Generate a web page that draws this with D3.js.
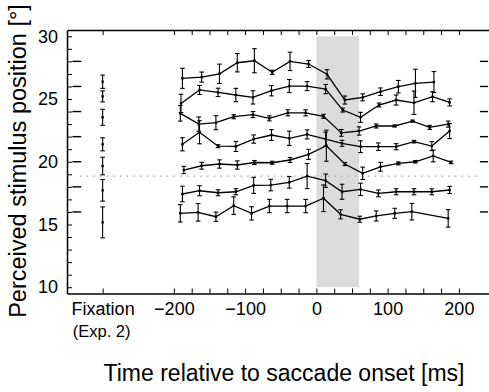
<!DOCTYPE html>
<html>
<head>
<meta charset="utf-8">
<script src="https://cdn.jsdelivr.net/npm/d3@7"></script>
<style>
  body { margin: 0; background: #fff; }
  svg { display: block; }
  text { font-family: "Liberation Sans", Arial, Helvetica, sans-serif; fill: #000; }
</style>
</head>
<body>
<svg id="vis-svg" width="489" height="392"></svg>
<script>
// true stimulus positions (deg), one curve per position
const positions = [28, 26, 24, 22, 20, 18, 16];

// time of each bin (ms), perceived position and error bar half-width, per position
const t28 = [-188, -161, -136, -111, -87, -62, -37, -11, 15, 40, 65, 90, 115, 139, 165];
const m28 = [26.65, 26.75, 27.01, 27.89, 28.05, 27.13, 28.0, 27.79, 26.97, 24.92, 25.13, 25.58, 25.98, 26.25, 26.35];
const e28 = [0.8, 0.4, 0.77, 0.73, 0.96, 0.17, 0.73, 0.27, 0.37, 0.32, 0.28, 0.3, 0.5, 1.12, 0.84];

const t26 = [-190, -164, -138, -113, -89, -63, -38, -13, 13, 37, 62, 88, 112, 137, 163, 187];
const m26 = [24.65, 25.72, 25.53, 25.32, 25.13, 25.66, 26.03, 26.03, 25.79, 24.12, 23.54, 24.52, 24.92, 24.7, 25.18, 24.73];
const e26 = [0.73, 0.36, 0.33, 0.53, 0.53, 0.41, 0.52, 0.36, 0.37, 0.16, 0.4, 0.16, 0.4, 0.93, 0.4, 0.28];

const t24 = [-191, -165, -141, -116, -89, -66, -40, -15, 10, 35, 60, 84, 110, 135, 159, 185];
const m24 = [23.86, 23.0, 23.11, 23.59, 23.76, 23.46, 23.9, 23.9, 23.62, 22.3, 22.45, 22.85, 22.85, 23.24, 22.74, 23.0];
const e24 = [0.62, 0.57, 0.56, 0.16, 0.24, 0.2, 0.24, 0.24, 0.16, 0.27, 0.33, 0.16, 0.08, 0.08, 0.16, 0.24];

const t22 = [-188, -164, -138, -113, -88, -63, -38, -13, 13, 36, 62, 87, 112, 137, 162, 187];
const m22 = [21.39, 22.35, 21.24, 21.22, 21.81, 22.13, 21.87, 22.18, 21.81, 21.47, 21.2, 21.2, 21.2, 21.6, 21.25, 22.45];
const e22 = [0.52, 0.92, 0.12, 0.4, 0.33, 0.43, 0.57, 0.36, 0.55, 0.24, 0.47, 0.3, 0.24, 0.1, 0.36, 0.6];

const t20 = [-186, -161, -136, -111, -87, -62, -37, -11, 14, 40, 65, 90, 115, 139, 164, 189];
const m20 = [19.34, 19.68, 19.82, 19.74, 19.94, 19.92, 20.14, 20.59, 21.28, 19.82, 19.08, 19.6, 19.87, 20.0, 20.46, 19.95];
const e20 = [0.29, 0.27, 0.33, 0.33, 0.16, 0.12, 0.2, 0.4, 1.24, 0.12, 0.49, 0.35, 0.12, 0.1, 0.47, 0.1];

const t18 = [-188, -164, -138, -113, -88, -64, -38, -13, 13, 36, 62, 87, 112, 137, 162, 187];
const m18 = [17.43, 17.69, 17.53, 17.61, 18.12, 18.14, 18.36, 18.86, 18.49, 17.61, 17.8, 17.48, 17.61, 17.61, 17.61, 17.75];
const e18 = [0.62, 0.4, 0.24, 0.24, 0.64, 0.46, 0.46, 1.0, 0.53, 0.6, 0.49, 0.27, 0.24, 0.24, 0.24, 0.28];

const t16 = [-191, -166, -141, -116, -91, -66, -41, -15, 10, 34, 61, 84, 110, 134, 185];
const m16 = [15.89, 15.97, 15.62, 16.5, 15.89, 16.47, 16.47, 16.47, 17.09, 15.81, 15.42, 15.68, 15.89, 16.02, 15.49];
const e16 = [0.69, 0.7, 0.37, 0.7, 0.53, 0.53, 0.53, 0.53, 1.06, 0.36, 0.24, 0.4, 0.4, 0.66, 0.7];

// fixation condition (Exp. 2), drawn at its own slot on the time axis
const fixTime = -300;
const fixMeans = [26.38, 25.21, 23.54, 21.39, 19.66, 17.72, 15.17];
const fixErrs = [0.53, 0.44, 0.64, 0.52, 0.7, 0.86, 1.23];

// saccade window and reference line
const saccadeWindow = [0, 60];
const referenceLine = 18.86;

// axis ticks and labels
const xTickValues = [-300, -200, -175, -150, -125, -100, -75, -50, -25, 0, 25, 50, 75, 100, 125, 150, 175, 200];
const xLabelValues = [-300, -200, -100, 0, 100, 200];
const xLabels = ['Fixation', '\u2212200', '\u2212100', '0', '100', '200'];
const yTickValues = d3.range(10, 31, 1);
const yLabelValues = [10, 15, 20, 25, 30];

const series = [
  { pos: 28, t: t28, m: m28, e: e28 },
  { pos: 26, t: t26, m: m26, e: e26 },
  { pos: 24, t: t24, m: m24, e: e24 },
  { pos: 22, t: t22, m: m22, e: e22 },
  { pos: 20, t: t20, m: m20, e: e20 },
  { pos: 18, t: t18, m: m18, e: e18 },
  { pos: 16, t: t16, m: m16, e: e16 }
].map(s => ({ pos: s.pos, points: s.t.map((t, i) => ({ t: t, m: s.m[i], e: s.e[i] })) }));

const svg = d3.select('#vis-svg');

// Scales
const x = d3.scaleLinear().domain([-350, 250]).range([67, 494.5]);
const y = d3.scaleLinear().domain([9.5, 30.5]).range([293.5, 30]);

// gray saccade band
svg.append('rect')
    .attr('x', x(saccadeWindow[0]))
    .attr('y', y(30))
    .attr('width', x(saccadeWindow[1]) - x(saccadeWindow[0]))
    .attr('height', y(10) - y(30))
    .attr('fill', '#dcdcdc');

// dotted reference line
svg.append('line')
    .attr('x1', x(-332)).attr('x2', x(225))
    .attr('y1', y(referenceLine)).attr('y2', y(referenceLine))
    .attr('stroke', '#999')
    .attr('stroke-width', 1.3)
    .attr('stroke-dasharray', '1.3,5.4');

// short dashes marking the true stimulus positions on both sides
const marks = svg.append('g');
[[-342.5, -330], [229.5, 241]].forEach(span => {
  marks.selectAll(null)
      .data(positions)
      .enter().append('line')
      .attr('x1', x(span[0])).attr('x2', x(span[1]))
      .attr('y1', d => y(d)).attr('y2', d => y(d))
      .attr('stroke', '#000')
      .attr('stroke-width', 1.4);
});

// Axes (ticks point inward)
const fmtX = v => { const i = xLabelValues.indexOf(v); return i < 0 ? '' : xLabels[i]; };
const fmtY = v => yLabelValues.includes(v) ? String(v) : '';

const xAxisB = svg.append('g')
    .attr('transform', `translate(0, ${y(9.5)})`)
    .call(d3.axisBottom(x).tickValues(xTickValues).tickFormat(fmtX).tickSizeInner(-5).tickSizeOuter(0).tickPadding(9));
svg.append('g')
    .attr('transform', `translate(0, ${y(30.5)})`)
    .call(d3.axisTop(x).tickValues(xTickValues).tickFormat('').tickSizeInner(-5).tickSizeOuter(0));
const yAxisL = svg.append('g')
    .attr('transform', `translate(${x(-350)}, 0)`)
    .call(d3.axisLeft(y).tickValues(yTickValues).tickFormat(fmtY).tickSizeInner(-5).tickSizeOuter(0).tickPadding(9));
svg.append('g')
    .attr('transform', `translate(${x(250)}, 0)`)
    .call(d3.axisRight(y).tickValues(yTickValues).tickFormat('').tickSizeInner(-5).tickSizeOuter(0));

svg.selectAll('.domain').attr('stroke', '#000').attr('stroke-width', 1.5);
svg.selectAll('.tick line').attr('stroke', '#000').attr('stroke-width', 1);
xAxisB.selectAll('text').style('font-size', '18px').attr('font-family', null);
yAxisL.selectAll('text').style('font-size', '18px').attr('font-family', null);

// second line under "Fixation"
svg.append('text')
    .attr('x', x(fixTime) - 1)
    .attr('y', 337)
    .attr('text-anchor', 'middle')
    .style('font-size', '16.5px')
    .text('(Exp. 2)');

// Axis titles
svg.append('text')
    .attr('x', 284)
    .attr('y', 381)
    .attr('text-anchor', 'middle')
    .style('font-size', '23px')
    .text('Time relative to saccade onset [ms]');

svg.append('text')
    .attr('transform', 'translate(26, 161) rotate(-90)')
    .attr('text-anchor', 'middle')
    .style('font-size', '23.5px')
    .text('Perceived stimulus position [\u00b0]');

// error bars with caps
function drawErrorBars(g, pts) {
  const bars = g.selectAll(null).data(pts).enter().append('g');
  bars.append('line')
      .attr('x1', d => x(d.t)).attr('x2', d => x(d.t))
      .attr('y1', d => y(d.m - d.e)).attr('y2', d => y(d.m + d.e));
  bars.append('line')
      .attr('x1', d => x(d.t) - 2.3).attr('x2', d => x(d.t) + 2.3)
      .attr('y1', d => y(d.m + d.e)).attr('y2', d => y(d.m + d.e));
  bars.append('line')
      .attr('x1', d => x(d.t) - 2.3).attr('x2', d => x(d.t) + 2.3)
      .attr('y1', d => y(d.m - d.e)).attr('y2', d => y(d.m - d.e));
  bars.selectAll('line').attr('stroke', '#000').attr('stroke-width', 1.1);
  g.selectAll(null).data(pts).enter().append('rect')
      .attr('x', d => x(d.t) - 1.2).attr('y', d => y(d.m) - 1.2)
      .attr('width', 2.4).attr('height', 2.4)
      .attr('fill', '#000');
}

const line = d3.line().x(d => x(d.t)).y(d => y(d.m));

series.forEach(s => {
  const g = svg.append('g').attr('class', 'series');
  g.append('path')
      .attr('d', line(s.points))
      .attr('fill', 'none')
      .attr('stroke', '#000')
      .attr('stroke-width', 1.3);
  drawErrorBars(g, s.points);
});

// fixation column
drawErrorBars(svg.append('g'), fixMeans.map((m, i) => ({ t: fixTime, m: m, e: fixErrs[i] })));
</script>
</body>
</html>
